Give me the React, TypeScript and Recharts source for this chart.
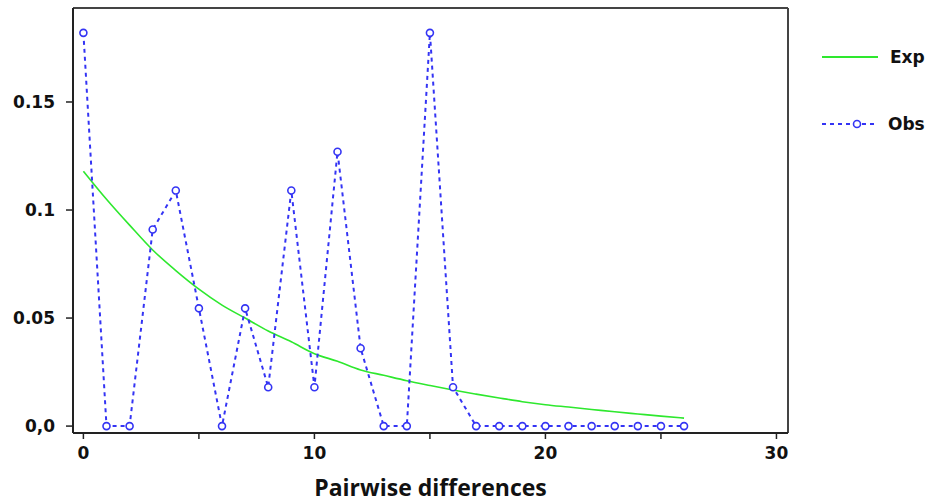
import React from "react";
import { Line, LineChart, ReferenceLine, XAxis, YAxis } from "recharts";

const diffs = [0, 1, 2, 3, 4, 5, 6, 7, 8, 9, 10, 11, 12, 13, 14, 15, 16, 17, 18, 19, 20, 21, 22, 23, 24, 25, 26];
const obsValues = [
  0.182, 0, 0, 0.091, 0.109, 0.0545, 0, 0.0545, 0.018, 0.109, 0.018, 0.127, 0.036, 0, 0,
  0.182, 0.018, 0, 0, 0, 0, 0, 0, 0, 0, 0, 0,
];
const expValues = [
  0.118, 0.105, 0.093, 0.0815, 0.072, 0.0634, 0.056, 0.05, 0.044, 0.039, 0.0335, 0.03,
  0.026, 0.0235, 0.021, 0.0188, 0.0167, 0.0148, 0.013, 0.0113, 0.0099, 0.0088, 0.0077,
  0.0066, 0.0056, 0.0046, 0.0037,
];
const xTicks = [0, 5, 10, 15, 20, 25, 30];
const xLabelled = [0, 10, 20, 30];
const yTicks = [0, 0.05, 0.1, 0.15];
const yLabels = ["0,0", "0.05", "0.1", "0.15"];

const data = diffs.map((d, i) => ({ d, obs: obsValues[i], exp: expValues[i] }));

const X_DOMAIN: [number, number] = [-0.45, 30.5];
const Y_DOMAIN: [number, number] = [-0.0032, 0.1935];

const BLUE = "#3434f4";
const GREEN = "#2ee82e";
const AXIS = "#222";
const tickFont = {
  fontFamily: "DejaVu Sans",
  fontWeight: "bold",
  fontSize: 17,
  fill: "#111",
};

function ObsDot(props: any) {
  const { cx, cy } = props;
  if (cx == null || cy == null) return null;
  return <circle cx={cx} cy={cy} r={3.5} fill="#fff" stroke={BLUE} strokeWidth={1.6} />;
}

function LegendBox() {
  return (
    <svg width={118} height={130} style={{ position: "absolute", left: 812, top: 30 }}>
      <line x1={10} y1={27} x2={66} y2={27} stroke={GREEN} strokeWidth={2} />
      <text x={78} y={27} dy="0.36em" style={tickFont}>
        Exp
      </text>
      <line x1={10} y1={94} x2={66} y2={94} stroke={BLUE} strokeWidth={2} strokeDasharray="4 4" />
      <circle cx={45} cy={94} r={3.5} fill="#fff" stroke={BLUE} strokeWidth={1.6} />
      <text x={76} y={94} dy="0.36em" style={tickFont}>
        Obs
      </text>
    </svg>
  );
}

export default function App() {
  return (
    <div style={{ position: "absolute", left: 0, top: 0, width: 936, height: 504, background: "#fff" }}>
      <LineChart
        width={936}
        height={504}
        data={data}
        margin={{ top: 8, right: 148, left: 0, bottom: 0 }}
      >
        <XAxis
          dataKey="d"
          type="number"
          domain={X_DOMAIN}
          ticks={xTicks}
          allowDataOverflow
          height={71}
          tickSize={6}
          tickMargin={8}
          tickFormatter={(v: number) => (xLabelled.includes(v) ? String(v) : "")}
          tick={tickFont}
          axisLine={{ stroke: AXIS, strokeWidth: 2 }}
          tickLine={{ stroke: AXIS, strokeWidth: 1.5 }}
          label={{
            value: "Pairwise differences",
            position: "insideBottom",
            offset: 8,
            style: { fontFamily: "Open Sans", fontWeight: "bold", fontSize: 23, fill: "#111" },
          }}
        />
        <YAxis
          type="number"
          domain={Y_DOMAIN}
          ticks={yTicks}
          allowDataOverflow
          width={73}
          tickSize={7}
          tickMargin={11}
          tickFormatter={(v: number) => yLabels[yTicks.indexOf(v)] ?? ""}
          tick={tickFont}
          axisLine={{ stroke: AXIS, strokeWidth: 2 }}
          tickLine={{ stroke: AXIS, strokeWidth: 1.5 }}
        />
        {/* frame: top and right edges of the plot box */}
        <ReferenceLine y={Y_DOMAIN[1]} stroke="#444" strokeWidth={2} ifOverflow="visible" />
        <ReferenceLine x={X_DOMAIN[1]} stroke="#444" strokeWidth={2} ifOverflow="visible" />
        <Line
          type="monotone"
          dataKey="exp"
          name="Exp"
          stroke={GREEN}
          strokeWidth={1.6}
          dot={false}
          isAnimationActive={false}
        />
        <Line
          type="linear"
          dataKey="obs"
          name="Obs"
          stroke={BLUE}
          strokeWidth={2}
          strokeDasharray="4 4"
          dot={<ObsDot />}
          isAnimationActive={false}
        />
      </LineChart>
      <LegendBox />
    </div>
  );
}
